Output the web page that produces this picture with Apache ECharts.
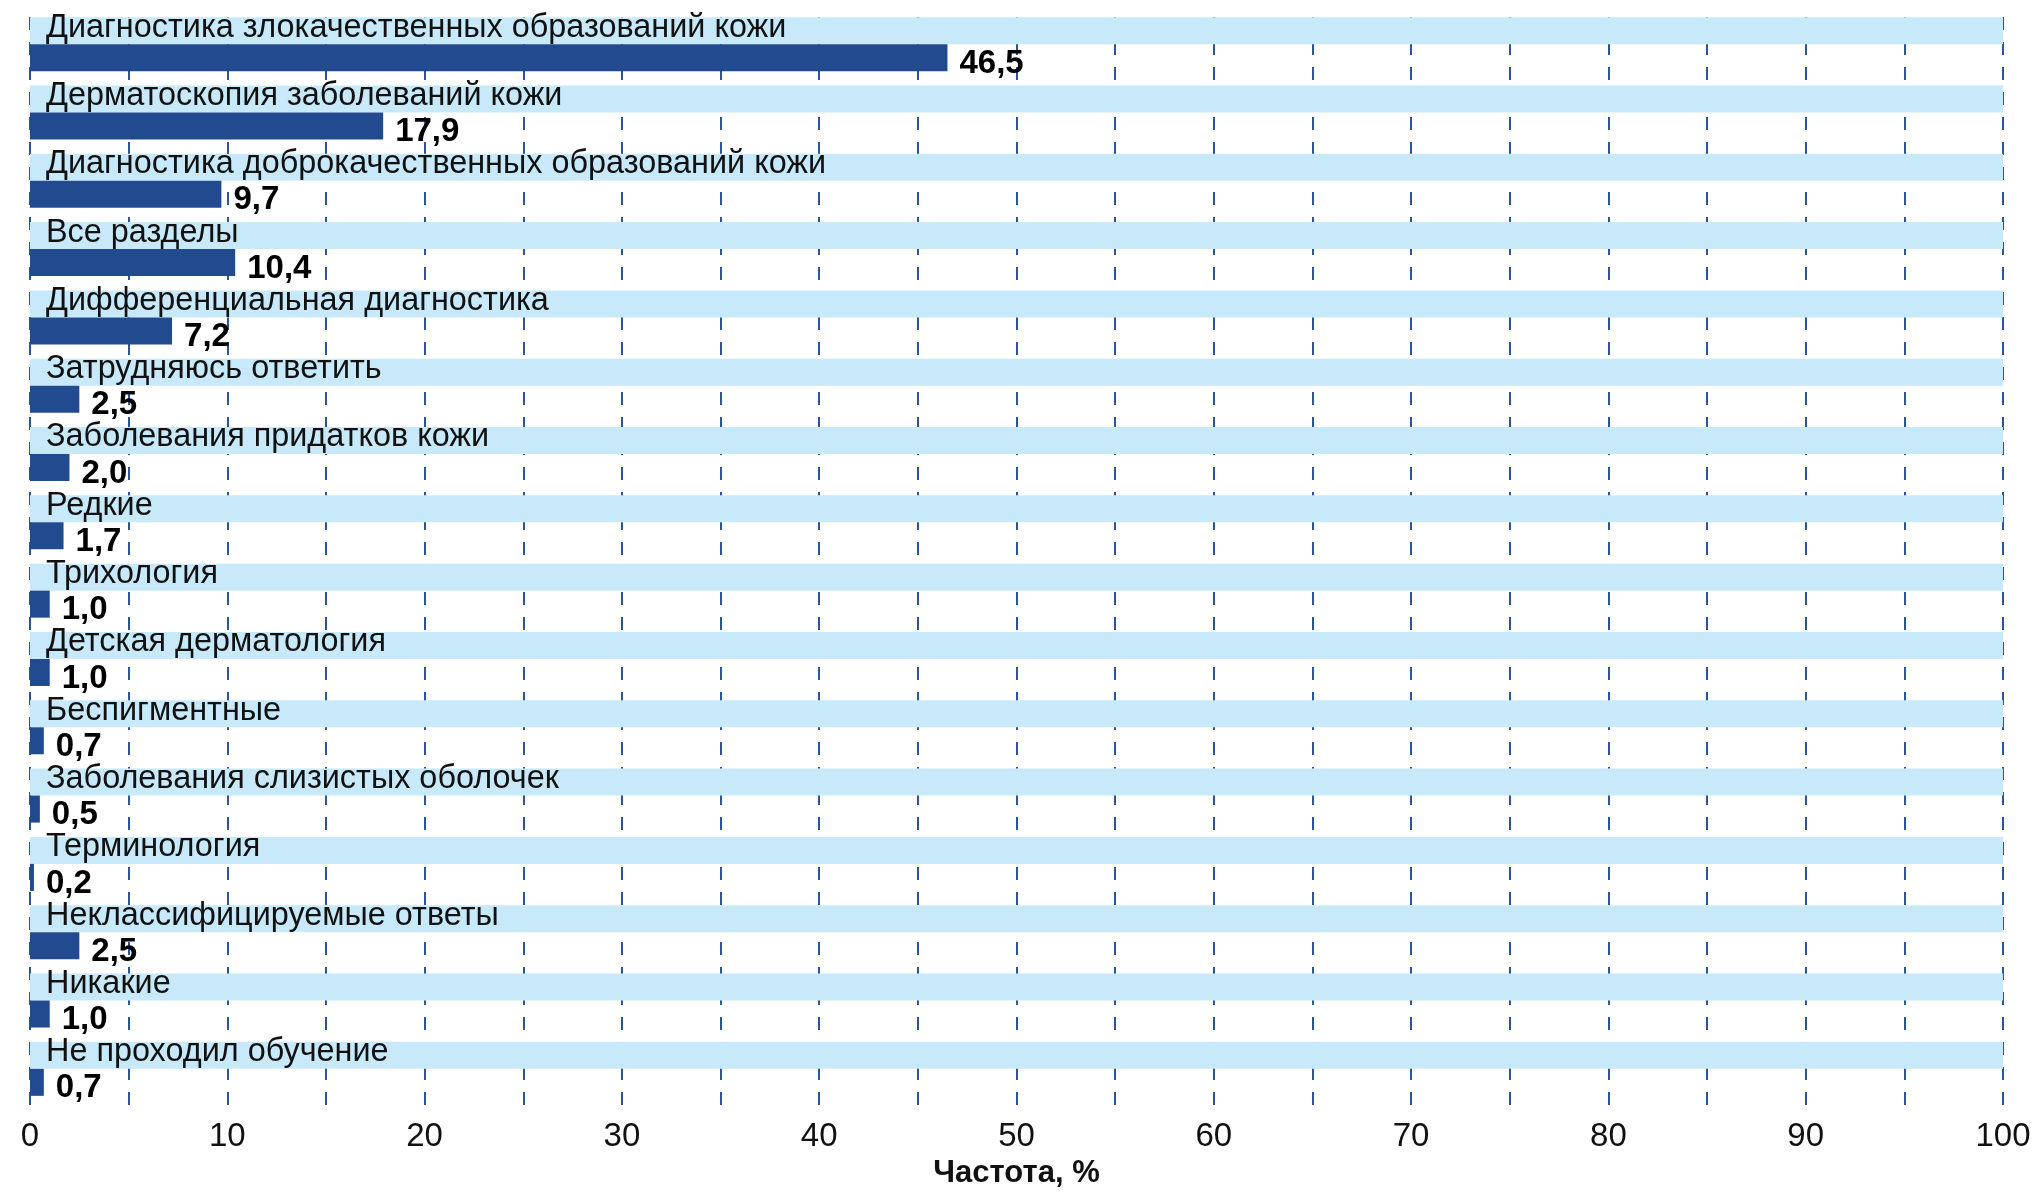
<!DOCTYPE html>
<html>
<head>
<meta charset="utf-8">
<script src="https://cdn.jsdelivr.net/npm/echarts@6/dist/echarts.min.js"></script>
<style>
html,body{margin:0;padding:0;background:#fff;}
#chart{width:2034px;height:1200px;}
</style>
</head>
<body>
<div id="chart"></div>
<script>
var categories = [
  'Диагностика злокачественных образований кожи',
  'Дерматоскопия заболеваний кожи',
  'Диагностика доброкачественных образований кожи',
  'Все разделы',
  'Дифференциальная диагностика',
  'Затрудняюсь ответить',
  'Заболевания придатков кожи',
  'Редкие',
  'Трихология',
  'Детская дерматология',
  'Беспигментные',
  'Заболевания слизистых оболочек',
  'Терминология',
  'Неклассифицируемые ответы',
  'Никакие',
  'Не проходил обучение'
];
var values = [46.5, 17.9, 9.7, 10.4, 7.2, 2.5, 2.0, 1.7, 1.0, 1.0, 0.7, 0.5, 0.2, 2.5, 1.0, 0.7];
var bandValues = categories.map(function(){ return 100; });
var spacerValues = categories.map(function(){ return 0; });
var xTickLabels = ['0','10','20','30','40','50','60','70','80','90','100'];
var axisName = 'Частота, %';

var FONT = '"Liberation Sans", Arial, sans-serif';

var chart = echarts.init(document.getElementById('chart'));
chart.setOption({
  animation: false,
  backgroundColor: '#ffffff',
  grid: { left: 30, right: 31, top: 17, bottom: 90, containLabel: false },
  xAxis: {
    type: 'value',
    min: 0, max: 100, interval: 5,
    axisLine: { show: false },
    axisTick: { show: false },
    splitLine: { show: true, lineStyle: { color: '#2a54a0', width: 2, type: [13, 12] } },
    axisLabel: {
      margin: 10,
      fontFamily: FONT, fontSize: 33, color: '#111',
      formatter: function (v) {
        var s = String(v);
        return xTickLabels.indexOf(s) >= 0 ? s : '';
      }
    },
    name: axisName,
    nameLocation: 'middle',
    nameGap: 48,
    nameTextStyle: { fontFamily: FONT, fontSize: 31, fontWeight: 'bold', color: '#111' }
  },
  yAxis: {
    type: 'category',
    data: categories,
    inverse: true,
    axisLine: { show: false },
    axisTick: { show: false },
    axisLabel: { show: false },
    splitLine: { show: false }
  },
  series: [
    {
      type: 'bar',
      data: bandValues,
      barWidth: 27,
      barGap: '0%',
      itemStyle: { color: '#c7e9fa' },
      silent: true,
      label: {
        show: true,
        position: 'insideLeft',
        distance: 16,
        offset: [0, -3],
        formatter: '{b}',
        fontFamily: FONT, fontSize: 32.4, color: '#111'
      }
    },
    {
      type: 'bar',
      data: values,
      barWidth: 27,
      barGap: '0%',
      itemStyle: { color: '#214b8e' },
      label: {
        show: true,
        position: 'right',
        distance: 12,
        offset: [0, 6],
        formatter: function (p) { return p.value.toFixed(1).replace('.', ','); },
        fontFamily: FONT, fontSize: 33, fontWeight: 'bold', color: '#000'
      }
    },
    {
      type: 'bar',
      data: spacerValues,
      barWidth: 14,
      barGap: '0%',
      silent: true,
      itemStyle: { color: 'rgba(0,0,0,0)' },
      label: { show: false }
    }
  ]
});
</script>
</body>
</html>
